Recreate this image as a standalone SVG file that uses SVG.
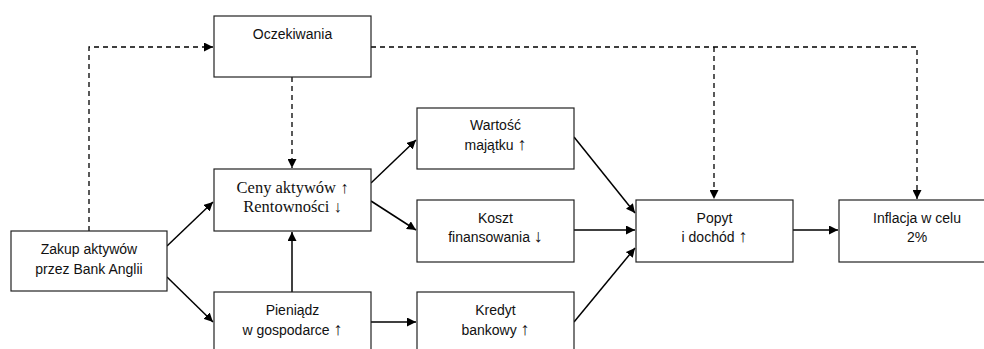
<svg xmlns="http://www.w3.org/2000/svg" width="984" height="349" viewBox="0 0 984 349">
<style>
.box{fill:#fff;stroke:#222;stroke-width:1.2}
.t{font-family:"Liberation Sans",Arial,sans-serif;font-size:14px;text-anchor:middle;fill:#111}
.s{font-family:"Liberation Serif","Times New Roman",serif;font-size:16.5px;text-anchor:middle;fill:#111}
.a{font-size:18px}
.ln{fill:none;stroke:#000;stroke-width:1.5}
.d{fill:none;stroke:#000;stroke-width:1.3;stroke-dasharray:5,4}
</style>
<defs>
<marker id="ah" viewBox="0 0 10 10" refX="10" refY="5" markerWidth="9" markerHeight="9" markerUnits="userSpaceOnUse" orient="auto">
<path d="M0,0 L10,5 L0,10 z" fill="#000"/>
</marker>
</defs>
<g id="connectors">
<path class="d" d="M89,231 V47 H213" marker-end="url(#ah)"/>
<path class="d" d="M292,77 V168" marker-end="url(#ah)"/>
<path class="d" d="M371,47 H917 V199" marker-end="url(#ah)"/>
<path class="d" d="M714,47 V199" marker-end="url(#ah)"/>
<path class="ln" d="M167,246 L213,202" marker-end="url(#ah)"/>
<path class="ln" d="M167,277 L213,322" marker-end="url(#ah)"/>
<path class="ln" d="M292,292 V232" marker-end="url(#ah)"/>
<path class="ln" d="M371,183 L416,140" marker-end="url(#ah)"/>
<path class="ln" d="M371,201 L416,230" marker-end="url(#ah)"/>
<path class="ln" d="M371,322 H416" marker-end="url(#ah)"/>
<path class="ln" d="M574,137 L635,213" marker-end="url(#ah)"/>
<path class="ln" d="M574,230 H635" marker-end="url(#ah)"/>
<path class="ln" d="M574,322 L635,248" marker-end="url(#ah)"/>
<path class="ln" d="M793,230 H838" marker-end="url(#ah)"/>
</g>
<g id="oczekiwania"><rect class="box" x="214" y="16" width="157" height="61"/><text class="t" x="292.5" y="39">Oczekiwania</text></g>
<g id="ceny"><rect class="box" x="214" y="169" width="157" height="62"/><text class="s" x="292.5" y="193">Ceny aktywów ↑</text><text class="s" x="292.5" y="212">Rentowności ↓</text></g>
<g id="zakup"><rect class="box" x="11" y="231" width="156" height="60"/><text class="t" x="89" y="254">Zakup aktywów</text><text class="t" x="89" y="274">przez Bank Anglii</text></g>
<g id="pieniadz"><rect class="box" x="214" y="292" width="157" height="62"/><text class="t" x="292.5" y="315">Pieniądz</text><text class="t" x="292.5" y="335">w gospodarce <tspan class="a">↑</tspan></text></g>
<g id="wartosc"><rect class="box" x="417" y="108" width="157" height="61"/><text class="t" x="495.5" y="130">Wartość</text><text class="t" x="495.5" y="150">majątku <tspan class="a">↑</tspan></text></g>
<g id="koszt"><rect class="box" x="417" y="200" width="157" height="62"/><text class="t" x="495.5" y="223">Koszt</text><text class="t" x="495.5" y="242">finansowania <tspan class="a">↓</tspan></text></g>
<g id="kredyt"><rect class="box" x="417" y="292" width="157" height="62"/><text class="t" x="495.5" y="315">Kredyt</text><text class="t" x="495.5" y="335">bankowy <tspan class="a">↑</tspan></text></g>
<g id="popyt"><rect class="box" x="636" y="200" width="157" height="62"/><text class="t" x="714.5" y="223">Popyt</text><text class="t" x="714.5" y="242">i dochód <tspan class="a">↑</tspan></text></g>
<g id="inflacja"><rect class="box" x="839" y="200" width="157" height="62"/><text class="t" x="917" y="223">Inflacja w celu</text><text class="t" x="917" y="242">2%</text></g>
</svg>
